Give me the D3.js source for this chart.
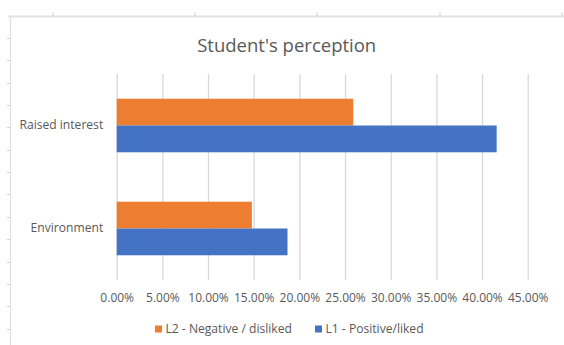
<!DOCTYPE html>
<html>
<head>
<meta charset="utf-8">
<script src="https://cdn.jsdelivr.net/npm/d3@7"></script>
<style>
  html, body { margin: 0; padding: 0; background: #fff; }
  svg { display: block; }
  text { font-family: "Open Sans", "Noto Sans", sans-serif; fill: #595959; }
</style>
</head>
<body>
<svg id="chart" width="564" height="345"></svg>
<script>
const title = "Student's perception";
const categories = ["Raised interest", "Environment"];
const seriesNames = ["L2 - Negative / disliked", "L1 - Positive/liked"];
const seriesColors = ["#ED7D31", "#4472C4"];
const negativeValues = [0.259, 0.148];
const positiveValues = [0.416, 0.187];
const xTicks = [0, 0.05, 0.10, 0.15, 0.20, 0.25, 0.30, 0.35, 0.40, 0.45];

const series = [negativeValues, positiveValues];

const svg = d3.select("#chart");
const W = 564, H = 345;
const plot = { left: 116.7, right: 527.7, top: 74, bottom: 280 };

// Spreadsheet frame (sheet header lines)
const frame = svg.append("g");
frame.append("rect").attr("x", 8).attr("y", 15.5).attr("width", W - 8).attr("height", 2).attr("fill", "#e3e3e3");
[53, 195, 317, 440, 562].forEach(x => {
  frame.append("line").attr("x1", x).attr("x2", x).attr("y1", 12.5).attr("y2", 16)
    .attr("stroke", "#d4d4d4").attr("stroke-width", 1.2);
});
frame.append("line").attr("x1", 10.5).attr("x2", 10.5).attr("y1", 17).attr("y2", H)
  .attr("stroke", "#e0e0e0").attr("stroke-width", 1.2);
d3.range(38, H, 22.35).forEach(y => {
  frame.append("line").attr("x1", 7).attr("x2", 10).attr("y1", Math.round(y) + 0.5).attr("y2", Math.round(y) + 0.5)
    .attr("stroke", "#d4d4d4").attr("stroke-width", 1);
});

const x = d3.scaleLinear().domain([0, 0.45]).range([plot.left, plot.right]);
const y = d3.scaleBand().domain(categories).range([plot.top, plot.bottom])
  .paddingInner(0.48).paddingOuter(0.24);
const ySub = d3.scaleBand().domain(d3.range(series.length)).range([0, y.bandwidth()]);

// Gridlines
const xAxis = d3.axisBottom(x).tickValues(xTicks).tickFormat(d3.format(".2%"))
  .tickSize(-(plot.bottom - plot.top)).tickPadding(13);
const gx = svg.append("g").attr("transform", `translate(0,${plot.bottom})`).call(xAxis);
gx.select(".domain").remove();
gx.selectAll(".tick line").attr("stroke", "#d9d9d9").attr("stroke-width", 1.3);
gx.selectAll(".tick text").attr("fill", "#595959").style("font-size", "12px")
  .attr("font-family", "Open Sans");

// Bars
series.forEach((vals, si) => {
  svg.append("g").selectAll("rect").data(categories).join("rect")
    .attr("x", x(0))
    .attr("y", c => y(c) + ySub(si))
    .attr("width", (c, i) => x(vals[i]) - x(0))
    .attr("height", ySub.bandwidth())
    .attr("fill", seriesColors[si]);
});

// Category labels
const yAxis = d3.axisLeft(y).tickSize(0).tickPadding(13.5);
const gy = svg.append("g").attr("transform", `translate(${plot.left},0)`).call(yAxis);
gy.select(".domain").remove();
gy.selectAll(".tick text").attr("fill", "#595959").style("font-size", "12.1px")
  .attr("font-family", "Open Sans");

// Title
svg.append("text").attr("x", 286.7).attr("y", 51.5).attr("text-anchor", "middle")
  .style("font-size", "18.5px").text(title);

// Legend
const legendX = [155, 315];
const lg = svg.append("g");
seriesNames.forEach((name, i) => {
  lg.append("rect").attr("x", legendX[i]).attr("y", 325.5).attr("width", 7).attr("height", 7)
    .attr("fill", seriesColors[i]);
  lg.append("text").attr("x", legendX[i] + 10.5).attr("y", 333.3)
    .style("font-size", "12.1px").text(name);
});
</script>
</body>
</html>
